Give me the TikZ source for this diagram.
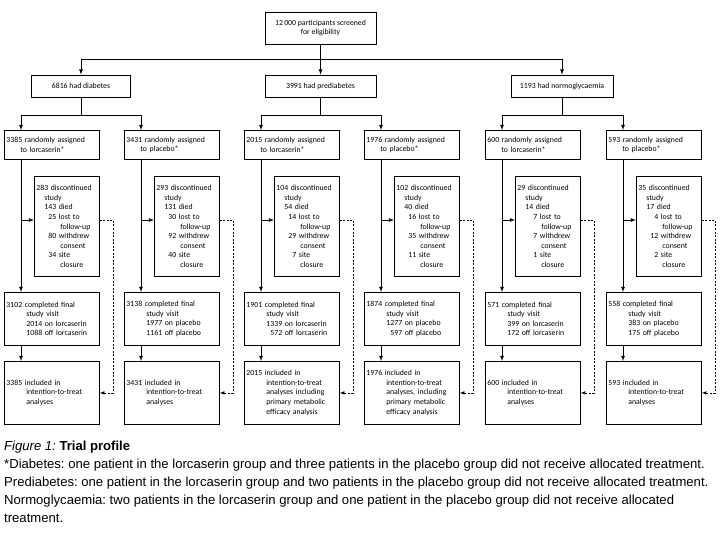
\documentclass[tikz,border=0pt]{standalone}
\usepackage{fontspec}
\setmainfont{Liberation Sans}
\newfontfamily\boxfont{Carlito}
\usetikzlibrary{positioning}
\frenchspacing

\begin{document}
\begin{tikzpicture}[x=1pt,y=-1pt,
            box/.style={rectangle, draw, line width=0.8pt, inner sep=2pt, font=\boxfont\fontsize{7.8}{9.6}\selectfont, align=left},
            arrow/.style={->, >=latex, line width=0.8pt},
            dashline/.style={->, >=latex, line width=0.6pt, dash pattern=on 2pt off 1.5pt}
        ]
            \useasboundingbox (0,0) rectangle (720,540);
            % screening and groups
            \node[box, minimum width=111, minimum height=32, align=center] (screen) at (320.5,28) {12\,000 participants screened\\for eligibility};
            \node[box, minimum width=99, minimum height=22] (diab) at (81,86) {6816 had diabetes};
            \node[box, minimum width=111, minimum height=22] (prediab) at (320.5,86) {3991 had prediabetes};
            \node[box, minimum width=102, minimum height=22] (normo) at (562,86) {1193 had normoglycaemia};

            \coordinate (split) at (320.5,59);
            \draw[line width=0.8pt] (screen) -- (split);
            \draw[arrow] (split) -| (diab);
            \draw[arrow] (split) -- (prediab);
            \draw[arrow] (split) -| (normo);

            % one column per randomised arm
            \foreach \i/\xl/\rand/\disc/\done/\itt in {
                1/4/{3385 randomly assigned\\\hspace*{14pt}to lorcaserin*}/{283 discontinued\\\hspace*{8pt}study\\\hspace*{8pt}143 died\\\hspace*{12pt}25 lost to\\\hspace*{24pt}follow-up\\\hspace*{12pt}80 withdrew\\\hspace*{24pt}consent\\\hspace*{12pt}34 site\\\hspace*{24pt}closure}/{3102 completed final\\\hspace*{20pt}study visit\\\hspace*{20pt}2014 on lorcaserin\\\hspace*{20pt}1088 off lorcaserin}/{3385 included in\\\hspace*{20pt}intention-to-treat\\\hspace*{20pt}analyses},
                2/124/{3431 randomly assigned\\\hspace*{14pt}to placebo*}/{293 discontinued\\\hspace*{8pt}study\\\hspace*{8pt}131 died\\\hspace*{12pt}30 lost to\\\hspace*{24pt}follow-up\\\hspace*{12pt}92 withdrew\\\hspace*{24pt}consent\\\hspace*{12pt}40 site\\\hspace*{24pt}closure}/{3138 completed final\\\hspace*{20pt}study visit\\\hspace*{20pt}1977 on placebo\\\hspace*{20pt}1161 off placebo}/{3431 included in\\\hspace*{20pt}intention-to-treat\\\hspace*{20pt}analyses},
                3/244/{2015 randomly assigned\\\hspace*{14pt}to lorcaserin*}/{104 discontinued\\\hspace*{8pt}study\\\hspace*{8pt}54 died\\\hspace*{12pt}14 lost to\\\hspace*{24pt}follow-up\\\hspace*{12pt}29 withdrew\\\hspace*{24pt}consent\\\hspace*{16pt}7 site\\\hspace*{24pt}closure}/{1901 completed final\\\hspace*{20pt}study visit\\\hspace*{20pt}1339 on lorcaserin\\\hspace*{24pt}572 off lorcaserin}/{2015 included in\\\hspace*{20pt}intention-to-treat\\\hspace*{20pt}analyses including\\\hspace*{20pt}primary metabolic\\\hspace*{20pt}efficacy analysis},
                4/364/{1976 randomly assigned\\\hspace*{14pt}to placebo*}/{102 discontinued\\\hspace*{8pt}study\\\hspace*{8pt}40 died\\\hspace*{12pt}16 lost to\\\hspace*{24pt}follow-up\\\hspace*{12pt}35 withdrew\\\hspace*{24pt}consent\\\hspace*{12pt}11 site\\\hspace*{24pt}closure}/{1874 completed final\\\hspace*{20pt}study visit\\\hspace*{20pt}1277 on placebo\\\hspace*{24pt}597 off placebo}/{1976 included in\\\hspace*{20pt}intention-to-treat\\\hspace*{20pt}analyses, including\\\hspace*{20pt}primary metabolic\\\hspace*{20pt}efficacy analysis},
                5/485/{600 randomly assigned\\\hspace*{14pt}to lorcaserin*}/{29 discontinued\\\hspace*{8pt}study\\\hspace*{8pt}14 died\\\hspace*{16pt}7 lost to\\\hspace*{24pt}follow-up\\\hspace*{16pt}7 withdrew\\\hspace*{24pt}consent\\\hspace*{16pt}1 site\\\hspace*{24pt}closure}/{571 completed final\\\hspace*{20pt}study visit\\\hspace*{20pt}399 on lorcaserin\\\hspace*{20pt}172 off lorcaserin}/{600 included in\\\hspace*{20pt}intention-to-treat\\\hspace*{20pt}analyses},
                6/606/{593 randomly assigned\\\hspace*{14pt}to placebo*}/{35 discontinued\\\hspace*{8pt}study\\\hspace*{8pt}17 died\\\hspace*{16pt}4 lost to\\\hspace*{24pt}follow-up\\\hspace*{12pt}12 withdrew\\\hspace*{24pt}consent\\\hspace*{16pt}2 site\\\hspace*{24pt}closure}/{558 completed final\\\hspace*{20pt}study visit\\\hspace*{20pt}383 on placebo\\\hspace*{20pt}175 off placebo}/{593 included in\\\hspace*{20pt}intention-to-treat\\\hspace*{20pt}analyses}}
            {
                \node[box, anchor=north west, minimum width=95, minimum height=29, text width=91] (rand\i) at (\xl,130) {\rand};
                \node[box, anchor=north west, minimum width=65, minimum height=100, text width=61] (disc\i) at (\xl+30,176) {\disc};
                \node[box, anchor=north west, minimum width=95, minimum height=53, text width=91, align=left] (done\i) at (\xl,292) {\done};
                \node[box, anchor=north west, minimum width=95, minimum height=63, text width=91, align=left] (itt\i) at (\xl,361) {\itt};
                \coordinate (side\i) at (\xl+17,220);

                \draw[arrow] (side\i |- rand\i.south) -- (side\i |- done\i.north);
                \draw[arrow] (side\i) -- (side\i -| disc\i.west);
                \draw[arrow] (side\i |- done\i.south) -- (side\i |- itt\i.north);
                \draw[dashline] (disc\i.east |- side\i) -- ++(13,0) |- (itt\i.east);
            }

            % branches to the randomised arms
            \draw[arrow] (diab.south) -- ++(0,18) -| (rand1.north -| side1);
            \draw[arrow] (diab.south) -- ++(0,18) -| (rand2.north -| side2);
            \draw[arrow] (prediab.south) -- ++(0,18) -| (rand3.north -| side3);
            \draw[arrow] (prediab.south) -- ++(0,18) -| (rand4.north -| side4);
            \draw[arrow] (normo.south) -- ++(0,18) -| (rand5.north -| side5);
            \draw[arrow] (normo.south) -- ++(0,18) -| (rand6.north -| side6);

            % caption
            \node[anchor=north west, text width=714, align=flush left, inner sep=0pt, font=\fontsize{13.1}{18}\selectfont] (caption) at (4,441)
                {\textit{Figure 1:} \textbf{Trial profile}\\{*}Diabetes: one patient in the lorcaserin group and three patients in the placebo group did not receive allocated treatment. Prediabetes: one patient in the lorcaserin group and two patients in the placebo group did not receive allocated treatment. Normoglycaemia: two patients in the lorcaserin group and one patient in the placebo group did not receive allocated treatment.};
        \end{tikzpicture}
\end{document}
